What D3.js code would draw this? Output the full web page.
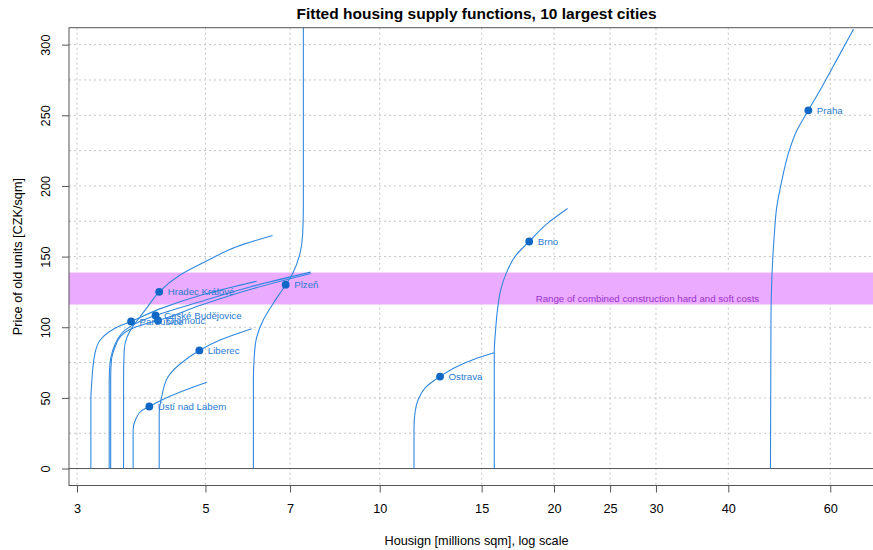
<!DOCTYPE html>
<html>
<head>
<meta charset="utf-8">
<script src="https://cdn.jsdelivr.net/npm/d3@7"></script>
<style>
  html, body { margin: 0; padding: 0; background: #fff; }
  #plot { width: 873px; height: 550px; overflow: hidden; }
  text { font-family: "Liberation Sans", Arial, Helvetica, sans-serif; }
</style>
</head>
<body>
<div id="plot"></div>
<script>
// values: housing in millions sqm, price in CZK/sqm
const cities = ['Praha', 'Brno', 'Ostrava', 'Plzeň', 'Liberec', 'Olomouc', 'Ústí nad Labem', 'Hradec Králové', 'České Budějovice', 'Pardubice'];
const pointHousing = [55.0, 18.12, 12.71, 6.88, 4.88, 4.14, 4.00, 4.16, 4.10, 3.72];
const pointPrice = [253.5, 160.7, 65.1, 130.1, 83.6, 104.8, 43.9, 125.1, 108.3, 104.1];

const curveHousing = [
  [47.3, 47.4, 47.6, 48.0, 48.5, 49.5, 50.8, 52.5, 55.0, 58.4, 61.9, 65.8],
  [15.77, 15.77, 15.86, 15.98, 16.19, 16.57, 17.12, 18.12, 19.42, 21.11],
  [11.46, 11.46, 11.51, 11.66, 11.97, 12.71, 13.58, 14.71, 15.77],
  [6.05, 6.05, 6.07, 6.13, 6.29, 6.55, 6.88, 7.09, 7.28, 7.36, 7.38, 7.38, 7.38],
  [4.16, 4.16, 4.20, 4.31, 4.52, 4.88, 5.30, 6.01],
  [3.43, 3.43, 3.44, 3.49, 3.56, 3.70, 3.93, 4.14, 4.89, 5.97, 7.60],
  [3.75, 3.75, 3.79, 3.88, 4.00, 4.23, 4.58, 5.03],
  [3.61, 3.61, 3.62, 3.66, 3.75, 3.85, 3.98, 4.16, 4.52, 5.03, 5.66, 6.53],
  [3.41, 3.41, 3.42, 3.46, 3.52, 3.63, 3.85, 4.10, 4.89, 5.97, 7.60],
  [3.17, 3.17, 3.18, 3.22, 3.29, 3.40, 3.56, 3.72, 4.17, 4.89, 6.13]
];
const curvePrice = [
  [0, 105, 138, 164, 185, 204, 223, 239, 253.5, 272, 291, 311],
  [0, 82, 99, 113, 127, 139, 150, 160.7, 173, 184],
  [0, 28, 40, 49, 57, 65.1, 72, 78, 82],
  [0, 62, 79, 93, 105, 117, 130.1, 139, 152, 166, 185, 225, 312],
  [0, 39, 50.5, 65, 74, 83.6, 91, 99],
  [0, 64, 76.5, 86, 93, 98.4, 102.3, 104.8, 115.4, 126.7, 138],
  [0, 27, 35, 41, 43.9, 49, 55, 61],
  [0, 62, 84, 93, 101, 107, 115, 125.1, 137, 147, 157, 165],
  [0, 62, 74, 84, 91, 98, 104, 108.3, 118, 128.5, 139],
  [0, 48, 60, 81, 91, 96.5, 101, 104.1, 113, 122.5, 132.6]
];

const xTicks = [3, 5, 7, 10, 15, 20, 25, 30, 40, 60];
const yTicks = [0, 50, 100, 150, 200, 250, 300];
const yGridTicks = [25, 50, 75, 100, 125, 150, 175, 200, 225, 250, 275, 300];
const costBand = [116.1, 138.7];
const bandLabel = { housing: 29, price: 120, text: 'Range of combined construction hard and soft costs' };

function createSupplyChart() {
  const fullWidth = 873;
  const fullHeight = 550;
  // plot box runs past the right edge of the picture
  const margin = { top: 27.7, left: 69, right: -11, bottom: 64.5 };
  const width = fullWidth - margin.left - margin.right;
  const height = fullHeight - margin.top - margin.bottom;

  const svg = d3.select('#plot').append('svg')
    .attr('width', fullWidth)
    .attr('height', fullHeight);

  const g = svg.append('g').attr('transform', `translate(${margin.left},${margin.top})`);

  const xScale = d3.scaleLog().domain([2.906, 74.3]).range([0, width]);
  const yScale = d3.scaleLinear().domain([-12, 312]).range([height, 0]);

  svg.append('defs').append('clipPath').attr('id', 'clip')
    .append('rect').attr('width', width).attr('height', height);

  // dotted grid
  g.append('g').selectAll('line').data(xTicks).enter().append('line')
    .attr('x1', d => xScale(d)).attr('x2', d => xScale(d))
    .attr('y1', 0).attr('y2', height)
    .attr('stroke', '#c4c4c4').attr('stroke-dasharray', '2,3');
  g.append('g').selectAll('line').data(yGridTicks).enter().append('line')
    .attr('x1', 0).attr('x2', width)
    .attr('y1', d => yScale(d)).attr('y2', d => yScale(d))
    .attr('stroke', '#c4c4c4').attr('stroke-dasharray', '2,3');

  // construction cost band
  g.append('rect')
    .attr('x', 0).attr('width', width)
    .attr('y', yScale(costBand[1]))
    .attr('height', yScale(costBand[0]) - yScale(costBand[1]))
    .attr('fill', '#ebabff');

  g.append('text')
    .attr('x', xScale(bandLabel.housing))
    .attr('y', yScale(bandLabel.price))
    .attr('dy', '0.35em')
    .attr('text-anchor', 'middle')
    .style('font-size', '9.7px')
    .style('fill', '#9a32cd')
    .text(bandLabel.text);

  g.append('line')
    .attr('x1', 0).attr('x2', width)
    .attr('y1', yScale(0)).attr('y2', yScale(0))
    .attr('stroke', '#555').attr('stroke-width', 1);

  // supply curves (price rises monotonically along each one)
  const line = d3.line()
    .x(d => xScale(d[0]))
    .y(d => yScale(d[1]))
    .curve(d3.curveMonotoneY);

  const curves = g.append('g').attr('clip-path', 'url(#clip)');
  cities.forEach((city, i) => {
    const pts = curveHousing[i].map((h, j) => [h, curvePrice[i][j]]);
    curves.append('path')
      .datum(pts)
      .attr('fill', 'none')
      .attr('stroke', '#3088df')
      .attr('stroke-width', 1.1)
      .attr('d', line);
  });

  g.selectAll('.city-point').data(cities).enter().append('circle')
    .attr('class', 'city-point')
    .attr('cx', (d, i) => xScale(pointHousing[i]))
    .attr('cy', (d, i) => yScale(pointPrice[i]))
    .attr('r', 3.9)
    .attr('fill', '#1067c6');

  g.selectAll('.city-label').data(cities).enter().append('text')
    .attr('class', 'city-label')
    .attr('x', (d, i) => xScale(pointHousing[i]) + 8.5)
    .attr('y', (d, i) => yScale(pointPrice[i]))
    .attr('dy', '0.35em')
    .style('font-size', '9.7px')
    .style('fill', '#2a7bd2')
    .text(d => d);

  // box
  g.append('rect')
    .attr('width', width).attr('height', height)
    .attr('fill', 'none').attr('stroke', '#555').attr('stroke-width', 1);

  const xAxis = d3.axisBottom(xScale).tickValues(xTicks).tickFormat(d3.format('d')).tickSize(7).tickPadding(11);
  const xAxisG = g.append('g').attr('transform', `translate(0,${height})`).call(xAxis);
  xAxisG.select('.domain').remove();
  xAxisG.selectAll('line').attr('stroke', '#555');
  xAxisG.selectAll('text').style('font-size', '12.7px').style('fill', '#000').attr('font-family', null);

  const yAxis = d3.axisLeft(yScale).tickValues(yTicks).tickSize(7);
  const yAxisG = g.append('g').call(yAxis);
  yAxisG.select('.domain').remove();
  yAxisG.selectAll('line').attr('stroke', '#555');
  yAxisG.selectAll('text')
    .attr('x', null).attr('dy', null)
    .attr('text-anchor', 'middle')
    .attr('dominant-baseline', 'central')
    .attr('transform', 'translate(-23,0) rotate(-90)')
    .style('font-size', '12.7px').style('fill', '#000').attr('font-family', null);

  svg.append('text')
    .attr('x', margin.left + width / 2)
    .attr('y', 18.5)
    .attr('text-anchor', 'middle')
    .style('font-size', '15.5px')
    .style('font-weight', 'bold')
    .text('Fitted housing supply functions, 10 largest cities');

  svg.append('text')
    .attr('x', margin.left + width / 2)
    .attr('y', 545)
    .attr('text-anchor', 'middle')
    .style('font-size', '12.7px')
    .text('Housign [millions sqm], log scale');

  svg.append('text')
    .attr('transform', `translate(17.5,${margin.top + height / 2}) rotate(-90)`)
    .attr('text-anchor', 'middle')
    .attr('dominant-baseline', 'central')
    .style('font-size', '12.7px')
    .text('Price of old units [CZK/sqm]');
}

createSupplyChart();
</script>
</body>
</html>
